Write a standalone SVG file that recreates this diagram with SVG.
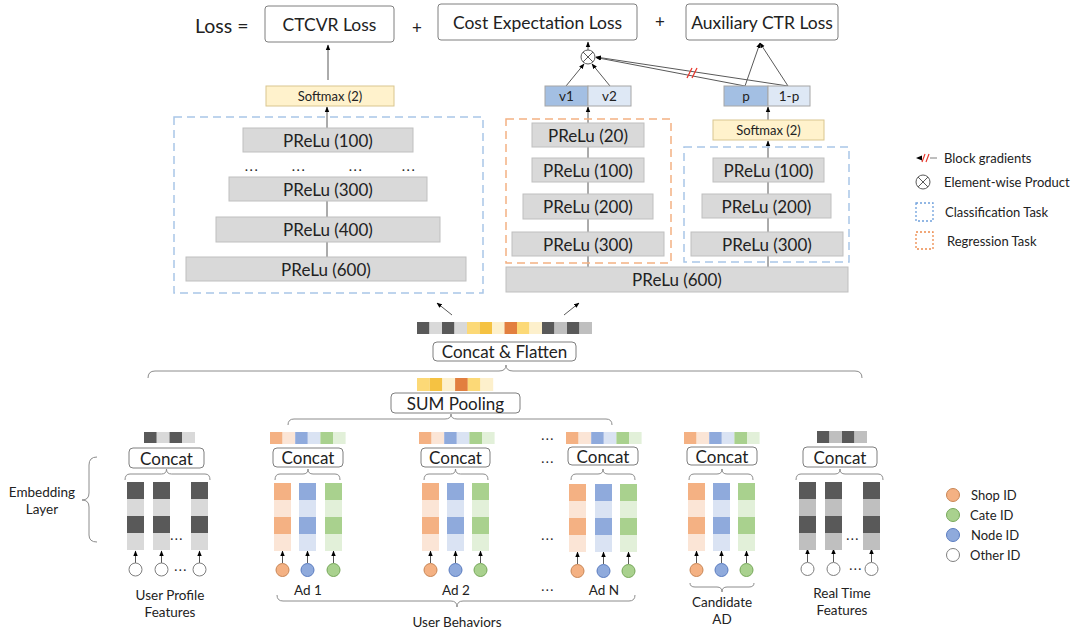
<svg xmlns="http://www.w3.org/2000/svg" xmlns:xlink="http://www.w3.org/1999/xlink" width="1080" height="637" viewBox="0 0 1080 637">
<style>
.t{font-family:Lato,"Open Sans",sans-serif;fill:#222;text-anchor:middle;dominant-baseline:central}
.s{text-anchor:start}
.d{letter-spacing:1.5px}
.box{fill:#fff;stroke:#7f7f7f;stroke-width:1}
.pr{fill:#d9d9d9;stroke:#bfbfbf;stroke-width:1}
.sm{fill:#fff2cc;stroke:#d9c68f;stroke-width:1}
.ln{stroke:#595959;stroke-width:1;fill:none}
.br{stroke:#8c8c8c;stroke-width:1;fill:none}
.bd{fill:none;stroke:#a9c6e8;stroke-width:1.5;stroke-dasharray:8 5}
.od{fill:none;stroke:#f4b183;stroke-width:1.5;stroke-dasharray:8 5}
.red{stroke:#e8362a;stroke-width:1.2}
</style>
<defs>
<marker id="ah" viewBox="0 0 10 10" refX="9" refY="5" markerWidth="5.5" markerHeight="5.5" orient="auto-start-reverse"><path d="M0,1 L10,5 L0,9 z" fill="#000"/></marker>
<g id="cG"><rect width="17" height="17" fill="#595959"/><rect y="17" width="17" height="17" fill="#d9d9d9"/><rect y="34" width="17" height="17" fill="#595959"/><rect y="51" width="17" height="17" fill="#d9d9d9"/></g>
<g id="cR"><rect width="17" height="17" fill="#595959"/><rect y="17" width="17" height="17" fill="#bfbfbf"/><rect y="34" width="17" height="17" fill="#595959"/><rect y="51" width="17" height="17" fill="#bfbfbf"/></g>
<g id="cO"><rect width="17" height="17" fill="#f4b183"/><rect y="17" width="17" height="17" fill="#fbe5d6"/><rect y="34" width="17" height="17" fill="#f4b183"/><rect y="51" width="17" height="17" fill="#fbe5d6"/></g>
<g id="cB"><rect width="17" height="17" fill="#8faadc"/><rect y="17" width="17" height="17" fill="#dae3f3"/><rect y="34" width="17" height="17" fill="#8faadc"/><rect y="51" width="17" height="17" fill="#dae3f3"/></g>
<g id="cN"><rect width="17" height="17" fill="#a9d18e"/><rect y="17" width="17" height="17" fill="#e2f0d9"/><rect y="34" width="17" height="17" fill="#a9d18e"/><rect y="51" width="17" height="17" fill="#e2f0d9"/></g>
<g id="sAd"><rect width="12.6" height="12" fill="#f4b183"/><rect x="12.6" width="12.6" height="12" fill="#fbe5d6"/><rect x="25.2" width="12.6" height="12" fill="#8faadc"/><rect x="37.8" width="12.6" height="12" fill="#dae3f3"/><rect x="50.4" width="12.6" height="12" fill="#a9d18e"/><rect x="63" width="12.6" height="12" fill="#e2f0d9"/></g>
<circle id="pO" r="6.5" fill="#f4b183" stroke="#c98655" stroke-width="1"/>
<circle id="pB" r="6.5" fill="#8faadc" stroke="#5a7cc0" stroke-width="1"/>
<circle id="pN" r="6.5" fill="#a9d18e" stroke="#77a85a" stroke-width="1"/>
<circle id="pW" r="6.5" fill="#fff" stroke="#7f7f7f" stroke-width="1"/>
</defs>
<rect width="1080" height="637" fill="#fff"/>

<g id="connectors">
<line class="ln" x1="328" y1="80" x2="328" y2="45" marker-end="url(#ah)"/>
<line class="ln" x1="327" y1="128" x2="327" y2="107" marker-end="url(#ah)"/>
<line class="ln" x1="327" y1="257" x2="327" y2="201"/>
<line class="ln" x1="588" y1="50" x2="588" y2="42" marker-end="url(#ah)"/>
<line class="ln" x1="566" y1="86" x2="584" y2="64" marker-end="url(#ah)"/>
<line class="ln" x1="610" y1="86" x2="592" y2="64" marker-end="url(#ah)"/>
<line class="ln" x1="745" y1="86" x2="596" y2="57.5" marker-end="url(#ah)"/>
<line class="ln" x1="788" y1="86" x2="596" y2="57" marker-end="url(#ah)"/>
<line class="red" x1="687" y1="78" x2="692" y2="68"/>
<line class="red" x1="692" y1="78" x2="697" y2="68"/>
<line class="ln" x1="745" y1="86" x2="760" y2="43" marker-end="url(#ah)"/>
<line class="ln" x1="788" y1="86" x2="760" y2="43" marker-end="url(#ah)"/>
<line class="ln" x1="588" y1="267" x2="588" y2="107" marker-end="url(#ah)"/>
<line class="ln" x1="768" y1="267" x2="768" y2="141" marker-end="url(#ah)"/>
<line class="ln" x1="768" y1="120" x2="768" y2="107" marker-end="url(#ah)"/>
<line class="ln" x1="452" y1="315" x2="437" y2="303" marker-end="url(#ah)"/>
<line class="ln" x1="564" y1="315" x2="579" y2="303" marker-end="url(#ah)"/>
<g marker-end="url(#ah)" class="ln">
<line x1="135.5" y1="563" x2="135.5" y2="551"/><line x1="161.5" y1="563" x2="161.5" y2="551"/><line x1="199.5" y1="563" x2="199.5" y2="551"/>
<line x1="282.5" y1="563" x2="282.5" y2="551"/><line x1="307.5" y1="563" x2="307.5" y2="551"/><line x1="333.5" y1="563" x2="333.5" y2="551"/>
<line x1="430.5" y1="563" x2="430.5" y2="551"/><line x1="455.5" y1="563" x2="455.5" y2="551"/><line x1="480.5" y1="563" x2="480.5" y2="551"/>
<line x1="577.5" y1="564" x2="577.5" y2="552"/><line x1="603.5" y1="564" x2="603.5" y2="552"/><line x1="628.5" y1="564" x2="628.5" y2="552"/>
<line x1="696.5" y1="563" x2="696.5" y2="551"/><line x1="721.5" y1="563" x2="721.5" y2="551"/><line x1="746.5" y1="563" x2="746.5" y2="551"/>
<line x1="807.5" y1="562" x2="807.5" y2="549"/><line x1="833.5" y1="562" x2="833.5" y2="549"/><line x1="871.5" y1="562" x2="871.5" y2="549"/>
</g>
<g class="br">
<path d="M148 378 Q148 371 155 371 L499 371 Q506 371 506 365 Q506 371 513 371 L855 371 Q862 371 862 378"/>
<path d="M288 425 Q288 419 294 419 L445 419 Q451 419 451 414 Q451 419 457 419 L606 419 Q612 419 612 425"/>
<path d="M125 480 Q125 474 130 474 L161.5 474 Q166.5 474 166.5 469 Q166.5 474 171.5 474 L205 474 Q210 474 210 480"/>
<path d="M275 480 Q275 474 280 474 L303 474 Q308 474 308 469 Q308 474 313 474 L335 474 Q340 474 340 480"/>
<path d="M424 480 Q424 474 429 474 L450.5 474 Q455.5 474 455.5 469 Q455.5 474 460.5 474 L483 474 Q488 474 488 480"/>
<path d="M571 480 Q571 474 576 474 L598 474 Q603 474 603 469 Q603 474 608 474 L630 474 Q635 474 635 480"/>
<path d="M689 480 Q689 474 694 474 L717 474 Q722 474 722 469 Q722 474 727 474 L748 474 Q753 474 753 480"/>
<path d="M796 480 Q796 474 801 474 L835 474 Q840 474 840 469 Q840 474 845 474 L878 474 Q883 474 883 480"/>
<path d="M277 595 Q277 601 283 601 L451 601 Q457 601 457 607 Q457 601 463 601 L629 601 Q635 601 635 595"/>
<path d="M690 583 Q690 587 695 587 L717 587 Q722 587 722 592 Q722 587 727 587 L749 587 Q754 587 754 583"/>
<path d="M97 457 Q89 457 89 465 L89 493 Q89 500 82 500 Q89 500 89 507 L89 535 Q89 542 97 542"/>
</g>
</g>

<g id="loss-title"><text class="t s" x="195" y="25" font-size="19.5">Loss =</text></g>
<g id="ctcvr-loss"><rect class="box" x="265" y="6" width="129" height="36" rx="3"/><text class="t" x="329.5" y="24" font-size="17.5">CTCVR Loss</text></g>
<text class="t" x="417" y="27" font-size="17">+</text>
<g id="cost-loss"><rect class="box" x="438" y="4" width="199" height="36" rx="3"/><text class="t" x="537.5" y="22" font-size="17.5">Cost Expectation Loss</text></g>
<text class="t" x="660" y="21" font-size="17">+</text>
<g id="aux-loss"><rect class="box" x="686" y="4" width="152" height="36" rx="3"/><text class="t" x="762" y="22" font-size="17.5">Auxiliary CTR Loss</text></g>

<g id="softmax-left"><rect class="sm" x="266" y="86" width="128" height="20"/><text class="t" x="330" y="96" font-size="13">Softmax (2)</text></g>
<g id="product"><circle cx="588" cy="57" r="7" fill="#fff" stroke="#595959"/><path class="ln" d="M583 52 L593 62 M593 52 L583 62"/></g>
<g id="v1v2"><rect x="545" y="86" width="43" height="20" fill="#a3bfe3" stroke="#a6a6a6"/><rect x="588" y="86" width="43" height="20" fill="#dee8f5" stroke="#a6a6a6"/><text class="t" x="566.5" y="96" font-size="13.5">v1</text><text class="t" x="609.5" y="96" font-size="13.5">v2</text></g>
<g id="p1p"><rect x="724" y="86" width="44" height="20" fill="#a3bfe3" stroke="#a6a6a6"/><rect x="768" y="86" width="42" height="20" fill="#dee8f5" stroke="#a6a6a6"/><text class="t" x="746" y="96" font-size="13.5">p</text><text class="t" x="789" y="96" font-size="13.5">1-p</text></g>
<g id="softmax-right"><rect class="sm" x="713" y="120" width="111" height="20"/><text class="t" x="768.5" y="130" font-size="13">Softmax (2)</text></g>

<g id="ctcvr-tower">
<rect class="bd" x="174" y="117" width="309" height="176"/>
<rect class="pr" x="243" y="128" width="170" height="24"/><text class="t" x="328" y="140" font-size="17">PReLu (100)</text>
<text class="t d" x="252" y="165" font-size="14">...</text><text class="t d" x="299" y="165" font-size="14">...</text><text class="t d" x="356" y="165" font-size="14">...</text><text class="t d" x="409" y="165" font-size="14">...</text>
<rect class="pr" x="229" y="177" width="198" height="24"/><text class="t" x="328" y="189" font-size="17">PReLu (300)</text>
<rect class="pr" x="216" y="217" width="224" height="25"/><text class="t" x="328" y="229.5" font-size="17">PReLu (400)</text>
<rect class="pr" x="186" y="257" width="280" height="24"/><text class="t" x="326" y="269" font-size="17">PReLu (600)</text>
</g>

<g id="regression-tower">
<rect class="od" x="506" y="119" width="165" height="144"/>
<rect class="pr" x="532" y="123" width="112" height="24"/><text class="t" x="588" y="135" font-size="17">PReLu (20)</text>
<rect class="pr" x="532" y="158" width="112" height="24"/><text class="t" x="588" y="170" font-size="17">PReLu (100)</text>
<rect class="pr" x="523" y="194" width="130" height="25"/><text class="t" x="588" y="206.5" font-size="17">PReLu (200)</text>
<rect class="pr" x="512" y="232" width="152" height="24"/><text class="t" x="588" y="244" font-size="17">PReLu (300)</text>
</g>
<g id="classification-tower">
<rect class="bd" x="684" y="147" width="165" height="115"/>
<rect class="pr" x="713" y="158" width="111" height="24"/><text class="t" x="768.5" y="170" font-size="17">PReLu (100)</text>
<rect class="pr" x="702" y="194" width="129" height="24"/><text class="t" x="766.5" y="206" font-size="17">PReLu (200)</text>
<rect class="pr" x="691" y="232" width="152" height="24"/><text class="t" x="767" y="244" font-size="17">PReLu (300)</text>
</g>
<g id="shared-prelu"><rect class="pr" x="506" y="267" width="342" height="25"/><text class="t" x="677" y="279.5" font-size="17">PReLu (600)</text></g>

<g id="flatten-vector">
<rect x="417" y="322" width="12.5" height="12" fill="#595959"/><rect x="429.5" y="322" width="12.5" height="12" fill="#d9d9d9"/><rect x="442" y="322" width="12.5" height="12" fill="#595959"/><rect x="454.5" y="322" width="12.5" height="12" fill="#d9d9d9"/><rect x="467" y="322" width="12.5" height="12" fill="#fcd977"/><rect x="479.5" y="322" width="12.5" height="12" fill="#f5c242"/><rect x="492" y="322" width="12.5" height="12" fill="#fdf0cc"/><rect x="504.5" y="322" width="12.5" height="12" fill="#e27f3f"/><rect x="517" y="322" width="12.5" height="12" fill="#fcd977"/><rect x="529.5" y="322" width="12.5" height="12" fill="#fdf0cc"/><rect x="542" y="322" width="12.5" height="12" fill="#595959"/><rect x="554.5" y="322" width="12.5" height="12" fill="#bfbfbf"/><rect x="567" y="322" width="12.5" height="12" fill="#595959"/><rect x="579.5" y="322" width="12.5" height="12" fill="#bfbfbf"/>
</g>
<g id="concat-flatten"><rect class="box" x="433" y="342" width="143" height="19" rx="4"/><text class="t" x="504.5" y="351.5" font-size="17">Concat &amp; Flatten</text></g>
<g id="sum-vector">
<rect x="417" y="378" width="12.7" height="13" fill="#fcd977"/><rect x="429.7" y="378" width="12.7" height="13" fill="#f5c242"/><rect x="442.4" y="378" width="12.7" height="13" fill="#fdf0cc"/><rect x="455.1" y="378" width="12.7" height="13" fill="#e27f3f"/><rect x="467.8" y="378" width="12.7" height="13" fill="#fcd977"/><rect x="480.5" y="378" width="12.7" height="13" fill="#fdf0cc"/>
</g>
<g id="sum-pooling"><rect class="box" x="391" y="393" width="129" height="20" rx="4"/><text class="t" x="455.5" y="403" font-size="17">SUM Pooling</text></g>

<g id="embedding-label"><text class="t" x="42" y="492" font-size="13.5">Embedding</text><text class="t" x="42" y="509" font-size="13.5">Layer</text></g>

<g id="user-profile">
<rect x="144" y="432" width="12.75" height="11" fill="#595959"/><rect x="156.75" y="432" width="12.75" height="11" fill="#d9d9d9"/><rect x="169.5" y="432" width="12.75" height="11" fill="#595959"/><rect x="182.25" y="432" width="12.75" height="11" fill="#d9d9d9"/>
<rect class="box" x="129" y="448" width="75" height="20" rx="4"/><text class="t" x="166.5" y="458" font-size="17">Concat</text>
<use xlink:href="#cG" x="127" y="482"/><use xlink:href="#cG" x="153" y="482"/><use xlink:href="#cG" x="191" y="482"/>
<text class="t d" x="177" y="535" font-size="13">...</text>
<use xlink:href="#pW" x="135.5" y="569.5"/><use xlink:href="#pW" x="161.5" y="569.5"/><use xlink:href="#pW" x="199.5" y="569.5"/>
<text class="t d" x="181" y="566" font-size="13">...</text>
<text class="t" x="170" y="595" font-size="13.5">User Profile</text><text class="t" x="170" y="612" font-size="13.5">Features</text>
</g>

<g id="ad-1">
<use xlink:href="#sAd" x="270" y="432"/>
<rect class="box" x="273" y="448" width="70" height="19" rx="4"/><text class="t" x="308" y="457.5" font-size="17">Concat</text>
<use xlink:href="#cO" x="274" y="483"/><use xlink:href="#cB" x="299" y="483"/><use xlink:href="#cN" x="325" y="483"/>
<use xlink:href="#pO" x="282.5" y="570"/><use xlink:href="#pB" x="307.5" y="570"/><use xlink:href="#pN" x="333.5" y="570"/>
<text class="t" x="308" y="590" font-size="13.5">Ad 1</text>
</g>
<g id="ad-2">
<use xlink:href="#sAd" x="419" y="432"/>
<rect class="box" x="421" y="448" width="69" height="19" rx="4"/><text class="t" x="455.5" y="457.5" font-size="17">Concat</text>
<use xlink:href="#cO" x="422" y="483"/><use xlink:href="#cB" x="447" y="483"/><use xlink:href="#cN" x="472" y="483"/>
<use xlink:href="#pO" x="430.5" y="570"/><use xlink:href="#pB" x="455.5" y="570"/><use xlink:href="#pN" x="480.5" y="570"/>
<text class="t" x="456" y="590" font-size="13.5">Ad 2</text>
</g>
<g id="behavior-dots">
<text class="t d" x="548" y="435" font-size="13">...</text><text class="t d" x="548" y="458" font-size="13">...</text><text class="t d" x="548" y="535" font-size="13">...</text><text class="t d" x="548" y="586" font-size="13">...</text>
</g>
<g id="ad-n">
<use xlink:href="#sAd" x="566" y="432"/>
<rect class="box" x="568" y="447" width="70" height="18" rx="4"/><text class="t" x="603" y="456" font-size="17">Concat</text>
<use xlink:href="#cO" x="569" y="484"/><use xlink:href="#cB" x="595" y="484"/><use xlink:href="#cN" x="620" y="484"/>
<use xlink:href="#pO" x="577.5" y="571"/><use xlink:href="#pB" x="603.5" y="571"/><use xlink:href="#pN" x="628.5" y="571"/>
<text class="t" x="604" y="590" font-size="13.5">Ad N</text>
</g>
<text class="t" x="457" y="622" font-size="13.5">User Behaviors</text>

<g id="candidate-ad">
<use xlink:href="#sAd" x="684" y="432"/>
<rect class="box" x="687" y="447" width="70" height="18" rx="4"/><text class="t" x="722" y="456" font-size="17">Concat</text>
<use xlink:href="#cO" x="688" y="483"/><use xlink:href="#cB" x="713" y="483"/><use xlink:href="#cN" x="738" y="483"/>
<use xlink:href="#pO" x="696.5" y="570"/><use xlink:href="#pB" x="721.5" y="570"/><use xlink:href="#pN" x="746.5" y="570"/>
<text class="t" x="722" y="602" font-size="13.5">Candidate</text><text class="t" x="722" y="619" font-size="13.5">AD</text>
</g>

<g id="real-time">
<rect x="817" y="431" width="12.5" height="12" fill="#595959"/><rect x="829.5" y="431" width="12.5" height="12" fill="#bfbfbf"/><rect x="842" y="431" width="12.5" height="12" fill="#595959"/><rect x="854.5" y="431" width="12.5" height="12" fill="#bfbfbf"/>
<rect class="box" x="803" y="447" width="74" height="20" rx="4"/><text class="t" x="840" y="457" font-size="17">Concat</text>
<use xlink:href="#cR" x="799" y="482"/><use xlink:href="#cR" x="825" y="482"/><use xlink:href="#cR" x="863" y="482"/>
<text class="t d" x="853" y="535" font-size="13">...</text>
<use xlink:href="#pW" x="807.5" y="569"/><use xlink:href="#pW" x="833.5" y="569"/><use xlink:href="#pW" x="871.5" y="569"/>
<text class="t d" x="856" y="565" font-size="13">...</text>
<text class="t" x="842" y="593" font-size="13.5">Real Time</text><text class="t" x="842" y="610" font-size="13.5">Features</text>
</g>

<g id="legend-top">
<path d="M916 158 L922 155.5 L922 160.5 z" fill="#000"/>
<line class="red" x1="922" y1="162" x2="925" y2="154"/><line class="red" x1="926" y1="162" x2="929" y2="154"/>
<line x1="930" y1="158" x2="937" y2="158" stroke="#7f7f7f"/>
<text class="t s" x="944" y="158" font-size="13">Block gradients</text>
<circle cx="923" cy="182" r="7" fill="#fff" stroke="#595959"/><path class="ln" d="M918 177 L928 187 M928 177 L918 187"/>
<text class="t s" x="944" y="182" font-size="13">Element-wise Product</text>
<rect x="916" y="203" width="17" height="18" fill="none" stroke="#6fa0dc" stroke-width="1.3" stroke-dasharray="2 2"/>
<text class="t s" x="945" y="212" font-size="13">Classification Task</text>
<rect x="916" y="232" width="17" height="17" fill="none" stroke="#ed8a4c" stroke-width="1.3" stroke-dasharray="2 2"/>
<text class="t s" x="947" y="241" font-size="13">Regression Task</text>
</g>
<g id="legend-ids">
<use xlink:href="#pO" x="953" y="495"/><text class="t s" x="971" y="495" font-size="13">Shop ID</text>
<use xlink:href="#pN" x="953" y="515"/><text class="t s" x="970" y="515" font-size="13">Cate ID</text>
<use xlink:href="#pB" x="953" y="535"/><text class="t s" x="971" y="535" font-size="13">Node ID</text>
<use xlink:href="#pW" x="953" y="555"/><text class="t s" x="970" y="555" font-size="13">Other ID</text>
</g>
</svg>
